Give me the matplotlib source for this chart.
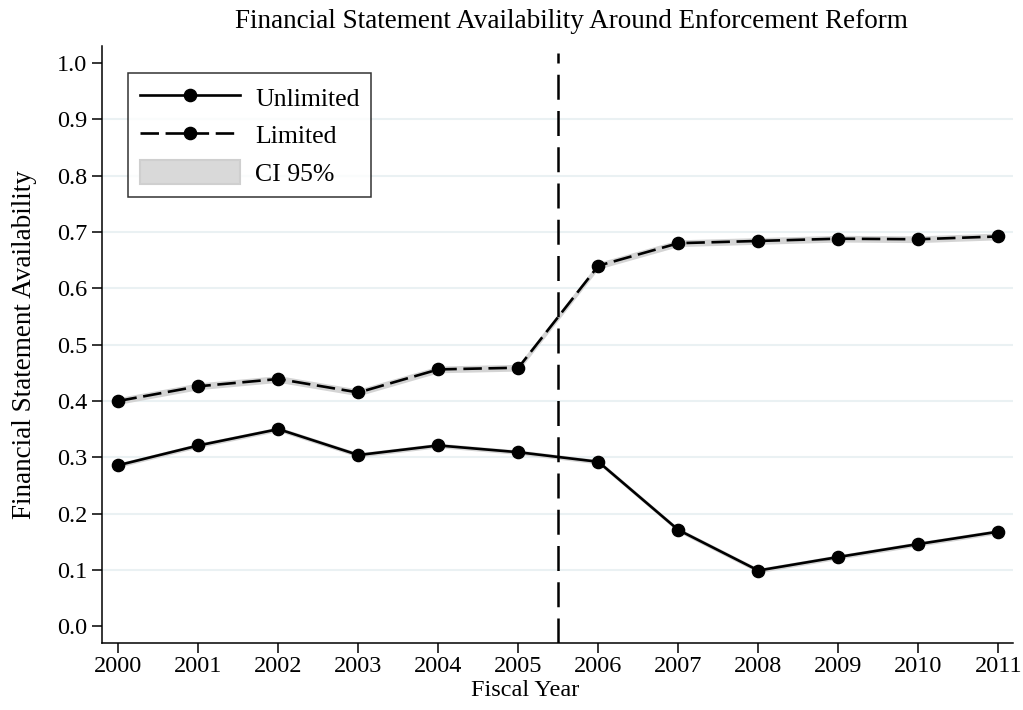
import matplotlib
matplotlib.use("Agg")
import matplotlib.pyplot as plt
from matplotlib.lines import Line2D
from matplotlib.patches import Patch

plt.rcParams["font.family"] = ["Liberation Serif", "DejaVu Serif"]

years = [2000, 2001, 2002, 2003, 2004, 2005, 2006, 2007, 2008, 2009, 2010, 2011]
unlimited = [0.286, 0.321, 0.350, 0.304, 0.321, 0.309, 0.292, 0.171, 0.099, 0.123, 0.146, 0.168]
limited = [0.400, 0.426, 0.439, 0.415, 0.456, 0.459, 0.640, 0.680, 0.684, 0.688, 0.687, 0.692]
# 95% confidence half-widths
unlimited_ci = [0.004, 0.004, 0.004, 0.004, 0.004, 0.004, 0.004, 0.004, 0.004, 0.004, 0.004, 0.004]
limited_ci = [0.006, 0.006, 0.006, 0.006, 0.006, 0.006, 0.006, 0.006, 0.006, 0.006, 0.006, 0.006]
yticks = [0.0, 0.1, 0.2, 0.3, 0.4, 0.5, 0.6, 0.7, 0.8, 0.9, 1.0]
grid_levels = [0.1, 0.2, 0.3, 0.4, 0.5, 0.6, 0.7, 0.8, 0.9]
reform_year = 2005.5

fig = plt.figure(figsize=(10.23, 7.10), dpi=100)
ax = fig.add_axes([0.0994, 0.0944, 0.8905, 0.8408])

band_color = "#d4d4d4"
for vals, ci in ((unlimited, unlimited_ci), (limited, limited_ci)):
    lo = [v - c for v, c in zip(vals, ci)]
    hi = [v + c for v, c in zip(vals, ci)]
    ax.fill_between(years, lo, hi, color=band_color, lw=0, zorder=2)

for g in grid_levels:
    ax.axhline(g, color="#eaf1f3", lw=1.5, zorder=1)

ax.plot(years, unlimited, color="black", lw=1.9, marker="o", ms=8.8, zorder=4)
ax.plot(years, limited, color="black", lw=1.9, marker="o", ms=8.8,
        dashes=(7, 2.5), zorder=4)

ax.set_xlim(1999.79, 2011.18)
ax.set_ylim(-0.0296, 1.030)
ax.vlines(reform_year, -0.0296, 1.018, colors="black", lw=1.8,
          linestyles=(0, (10, 4.5)), zorder=3)

ax.set_xticks(years)
ax.set_xticklabels([str(y) for y in years])
ax.set_yticks(yticks)
ax.set_yticklabels([f"{t:.1f}" for t in yticks])
ax.tick_params(direction="out", length=7.5, width=1.1, labelsize=17.5,
               color="black")
ax.tick_params(axis="x", pad=2)
ax.tick_params(axis="y", pad=3)

for side in ("top", "right"):
    ax.spines[side].set_visible(False)
for side in ("left", "bottom"):
    ax.spines[side].set_linewidth(1.1)

ax.set_xlabel("Fiscal Year", fontsize=17.5, labelpad=3)
ax.xaxis.set_label_coords(0.4647, -0.062)
ax.set_ylabel("Financial Statement Availability", fontsize=19.5, labelpad=14)
fig.text(0.559, 0.970, "Financial Statement Availability Around Enforcement Reform",
         ha="center", va="center", fontsize=19.5)

handles = [
    Line2D([], [], color="black", lw=1.9, marker="o", ms=8.8),
    Line2D([], [], color="black", lw=1.9, marker="o", ms=8.8, dashes=(7, 2.5)),
    Patch(facecolor="#d9d9d9", edgecolor="#cfcfcf", lw=1.5),
]
leg = ax.legend(handles, ["Unlimited", "Limited", "CI 95%"],
                loc="upper left", bbox_to_anchor=(0.029, 0.955),
                frameon=True, fancybox=False, edgecolor="black",
                fontsize=18.5, handlelength=3.9, handleheight=1.1,
                labelspacing=0.45, borderpad=0.45, handletextpad=0.6,
                borderaxespad=0)
leg.get_frame().set_linewidth(1.1)

fig.savefig("out.png", dpi=100)
